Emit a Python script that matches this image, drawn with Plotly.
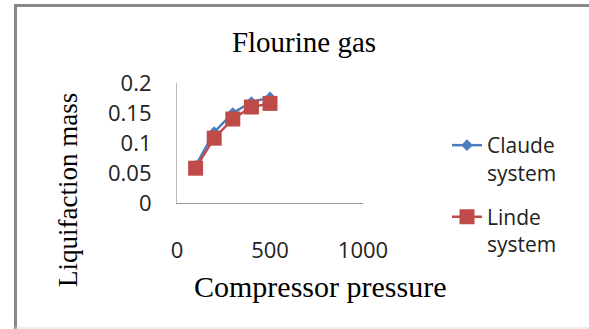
import plotly.graph_objects as go

pressure = [100, 200, 300, 400, 500]
claude = [0.062, 0.118, 0.150, 0.168, 0.176]
linde = [0.058, 0.108, 0.140, 0.160, 0.166]

x_ticks = [0, 500, 1000]
y_ticks = [0, 0.05, 0.1, 0.15, 0.2]
y_tick_text = ["0", "0.05", "0.1", "0.15", "0.2"]

W, H = 589, 329
L, R, T, B = 177, 226, 83, 126
pw, ph = W - L - R, H - T - B

def px(xp):
    return (xp - L) / pw

def py(yp):
    return (H - B - yp) / ph

fig = go.Figure()
fig.add_trace(go.Scatter(
    x=pressure, y=claude, name="Claude<br>system", mode="lines+markers",
    legendgroup="claude",
    line=dict(color="#4A7EBB", width=2.5),
    marker=dict(symbol="diamond", size=9, color="#4A7EBB"),
))
fig.add_trace(go.Scatter(
    x=pressure, y=linde, name="Linde<br>system", mode="lines+markers",
    legendgroup="linde",
    line=dict(color="#BE4B48", width=2.5),
    marker=dict(symbol="square", size=15, color="#BE4B48"),
))

sans = "Open Sans, Liberation Sans, sans-serif"
tickfont = dict(family=sans, size=22, color="#222")
serif_family = "Liberation Serif, Times New Roman, serif"

fig.update_layout(
    width=W, height=H,
    margin=dict(l=L, r=R, t=T, b=B),
    paper_bgcolor="white", plot_bgcolor="white",
    showlegend=True,
    legend=dict(x=px(447), y=py(125), xanchor="left", yanchor="top",
                font=dict(family=sans, size=21, color="#222"),
                valign="top", tracegroupgap=14, maxheight=400,
                bgcolor="rgba(0,0,0,0)"),
    title=dict(text="Flourine gas", xref="container", x=304 / W, xanchor="center",
               yref="container", y=1 - 42 / H, yanchor="middle",
               font=dict(family=serif_family, size=29, color="#000")),
    xaxis=dict(range=[0, 1000], tickvals=x_ticks, showgrid=False, zeroline=False,
               showline=True, linecolor="#999", linewidth=1.2, ticks="",
               tickfont=tickfont, ticklabelstandoff=27),
    yaxis=dict(range=[0, 0.2], tickvals=y_ticks, ticktext=y_tick_text, showgrid=False,
               zeroline=False, showline=True, linecolor="#bbb", linewidth=1.2, ticks="",
               tickfont=tickfont, ticklabelstandoff=20),
)

fig.add_annotation(text="Compressor pressure", xref="paper", yref="paper",
                   x=px(320), y=py(286), xanchor="center", yanchor="middle",
                   showarrow=False, font=dict(family=serif_family, size=30, color="#000"))
fig.add_annotation(text="Liquifaction mass", xref="paper", yref="paper",
                   x=px(68), y=py(190), xanchor="center", yanchor="middle", textangle=-90,
                   showarrow=False, font=dict(family=serif_family, size=27, color="#000"))

# outer frame
frame = "#888"
fig.add_shape(type="line", xref="paper", yref="paper",
              x0=px(14), x1=px(W + 5), y0=py(5.5), y1=py(5.5),
              line=dict(color=frame, width=3))
fig.add_shape(type="line", xref="paper", yref="paper",
              x0=px(15.5), x1=px(15.5), y0=py(4), y1=py(H + 5),
              line=dict(color=frame, width=3))
fig.add_shape(type="line", xref="paper", yref="paper",
              x0=px(15), x1=px(W + 5), y0=py(328), y1=py(328),
              line=dict(color="#ddd", width=1))

fig.write_html("out.html")
